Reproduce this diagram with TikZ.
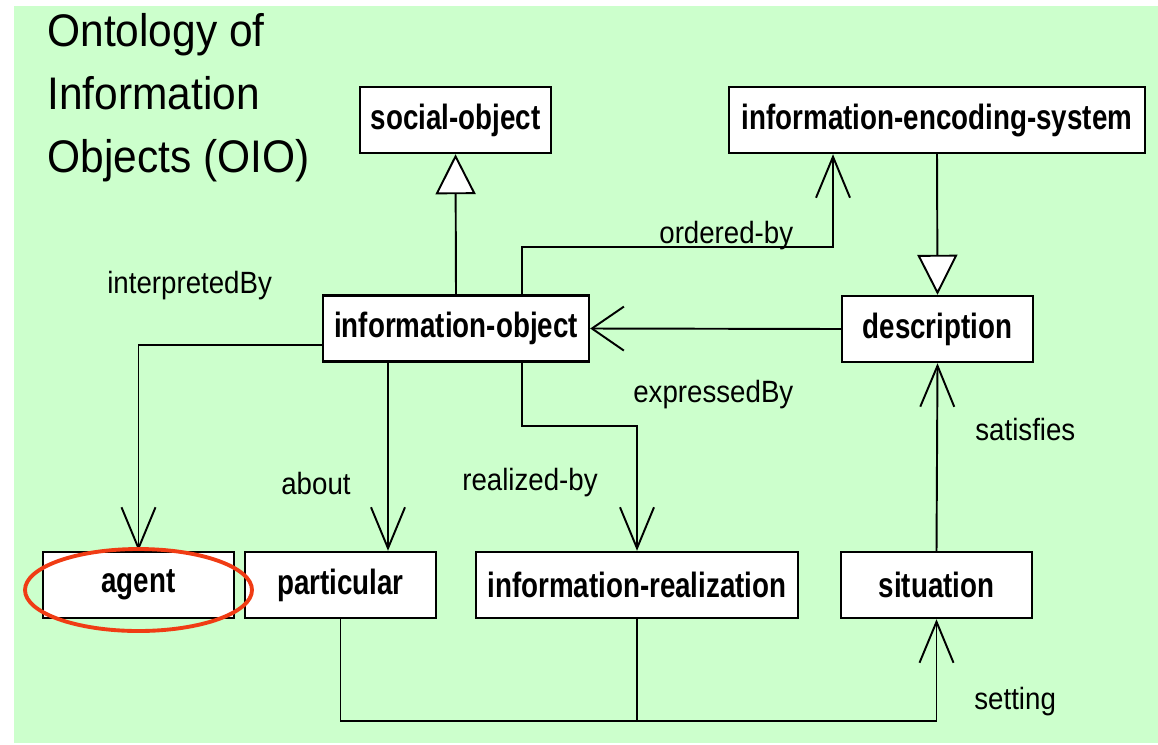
\documentclass[tikz,border=0pt]{standalone}
\usepackage{fontspec}
\setmainfont{Liberation Sans}
\newfontfamily\clsfont{Liberation Sans}[FakeStretch=0.79]
\newfontfamily\lblfont{Liberation Sans}[FakeStretch=0.9]
\newfontfamily\titlefont{Liberation Sans}[FakeStretch=0.93]
\usetikzlibrary{arrows.meta}
\definecolor{oiogreen}{RGB}{204,255,204}
\definecolor{ringred}{RGB}{240,60,20}
\tikzset{
  cls/.style={draw, line width=1.4pt, fill=white, minimum height=1.32cm, inner sep=0pt,
    font=\clsfont\bfseries\fontsize{20}{23}\selectfont},
  lbl/.style={anchor=base west, inner sep=0pt, font=\lblfont\fontsize{17.5}{20}\selectfont},
  conn/.style={line width=1.1pt},
  vhead/.style={conn, -{Straight Barb[length=0.82cm, width=0.68cm]}},
  hhead/.style={conn, -{Straight Barb[length=0.64cm, width=0.88cm]}},
  gen/.style={conn, -{Triangle[fill=white, length=0.8cm, width=0.8cm]}},
}
\begin{document}
\begin{tikzpicture}[x=0.02cm, y=-0.02cm]
    \useasboundingbox (0,0) rectangle (1158,744);
    \fill[oiogreen] (14,6) rectangle (1158,743);
    % title (base = last line)
    \node[lbl, font=\titlefont\fontsize{26}{35.7}\selectfont, align=left] (title) at (47,172)
      {Ontology of\\Information\\Objects (OIO)};
    % classes
    \node[cls, minimum width=3.82cm] (social) at (455.5,120) {social-object};
    \node[cls, minimum width=8.32cm] (ies) at (937,120) {information-encoding-system};
    \node[cls, minimum width=5.32cm] (io) at (456,328.5) {information-object};
    \node[cls, minimum width=3.82cm] (desc) at (937.5,329) {description};
    \node[cls, minimum width=3.82cm] (agent) at (138.5,585) {agent};
    \node[cls, minimum width=3.82cm] (particular) at (340.5,585) {particular};
    \node[cls, minimum width=6.44cm] (realization) at (637,585) {information-realization};
    \node[cls, minimum width=3.82cm] (situation) at (936.5,585) {situation};
    % relations
    \draw[gen] (io.north) -- (social.south);
    \draw[gen] (ies.south) -- (desc.north);
    \draw[vhead] (io.north -| 522,0) |- (833,247) -- (ies.south -| 833,0);
    \draw[hhead] (desc.west) -- (io.east);
    \draw[vhead] (io.west |- 0,345) -| (agent.north);
    \draw[vhead] (io.south -| 388,0) -- (particular.north -| 388,0);
    \draw[vhead] (io.south -| 522,0) |- (realization.north |- 0,426) -- (realization.north);
    \draw[vhead] (situation.north) -- (desc.south);
    \draw[vhead] (particular.south) |- (situation.south |- 0,721) -- (situation.south);
    \draw[conn] (realization.south) -- (realization.south |- 0,721);
    % labels
    \node[lbl] (lInterp) at (107,293) {interpretedBy};
    \node[lbl] (lOrdered) at (659,243) {ordered-by};
    \node[lbl] (lExpressed) at (633,402) {expressedBy};
    \node[lbl] (lAbout) at (281,494) {about};
    \node[lbl] (lRealized) at (462,490) {realized-by};
    \node[lbl] (lSatisfies) at (975,440) {satisfies};
    \node[lbl] (lSetting) at (974,709) {setting};
    % highlight
    \draw[ringred, line width=2.2pt] (agent.center) ++(0,5) ellipse [x radius=113.5, y radius=41];
\end{tikzpicture}
\end{document}
